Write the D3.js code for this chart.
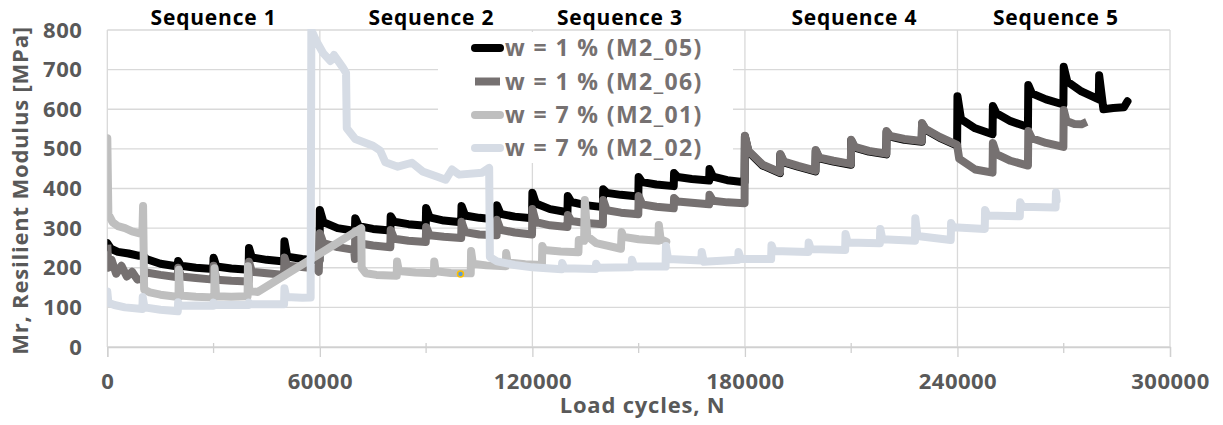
<!DOCTYPE html>
<html>
<head>
<meta charset="utf-8">
<script src="https://cdn.jsdelivr.net/npm/d3@7"></script>
<style>
  html, body { margin: 0; padding: 0; background: #ffffff; }
  svg { display: block; font-family: "Open Sans", sans-serif; }
</style>
</head>
<body>
<svg id="chart" width="1223" height="425"></svg>
<script>
// ---------- data ----------
const seriesNames = ["w = 1 % (M2_05)", "w = 1 % (M2_06)", "w = 7 % (M2_01)", "w = 7 % (M2_02)"];
const seriesColors = ["#000000", "#767171", "#bfbfbf", "#d6dce5"];

const xTicks = [0, 60000, 120000, 180000, 240000, 300000];
const xMinorTicks = [30000, 90000, 150000, 210000, 270000];
const yTicks = [0, 100, 200, 300, 400, 500, 600, 700, 800];

const seqLabels = ["Sequence 1", "Sequence 2", "Sequence 3", "Sequence 4", "Sequence 5"];
const seqCenters = [30000, 91500, 144700, 210900, 267800];

// [load cycles, Mr (MPa)]
const m2_05 = [
  [0,262],[1000,248],[3000,240],[6000,236],[9000,230],[10000,232],[11000,222],[15000,210],[19900,203],
  [20000,217],[20800,205],[25000,200],[29900,197],
  [30000,225],[30800,203],[35000,198],[39900,195],
  [40000,250],[40800,226],[45000,220],[49900,216],
  [50000,267],[50800,228],[55000,222],[59900,218],
  [60000,346],[61000,315],[65000,300],[69900,293],
  [70000,325],[71000,305],[75000,298],[79900,294],
  [80000,330],[81000,316],[85000,310],[89900,306],
  [90000,351],[91000,327],[95000,319],[99900,315],
  [100000,356],[101000,332],[105000,326],[109900,322],
  [110000,358],[111000,336],[115000,329],[119900,325],
  [120000,389],[121000,362],[125000,348],[129900,340],
  [130000,381],[131000,366],[135000,358],[139900,353],
  [140000,398],[141000,389],[145000,384],[149900,380],
  [150000,429],[151000,416],[155000,410],[159900,406],
  [160000,439],[161000,429],[165000,424],[169900,420],
  [170000,449],[171000,430],[175000,421],[179900,416],
  [180000,531],[181000,493],[185000,458],[189900,439],
  [190000,485],[191000,466],[195000,455],[199900,443],
  [200000,495],[201000,476],[205000,468],[209900,460],
  [210000,521],[211000,503],[215000,493],[219900,486],
  [220000,543],[221000,531],[225000,523],[229900,518],
  [230000,563],[231000,548],[235000,528],[239900,508],
  [240000,633],[241000,575],[245000,552],[249900,537],
  [250000,608],[251000,590],[255000,570],[259900,555],
  [260000,661],[261000,640],[265000,625],[269900,612],
  [270000,707],[271000,670],[275000,645],[279900,625],
  [280000,686],[281200,600],[284000,603],[287000,605],[288000,620]
];

const m2_06 = [
  [0,258],[300,200],[1200,220],[2500,185],[4000,205],[5500,178],[7000,190],[8500,170],[10000,172],[11000,188],[15000,182],[19900,176],
  [20000,200],[20800,178],[25000,174],[29900,170],
  [30000,205],[30800,170],[35000,167],[39900,165],
  [40000,215],[40800,190],[45000,186],[49900,182],
  [50000,226],[50800,205],[55000,202],[59000,198],[59700,190],
  [60000,287],[61000,262],[65000,252],[69700,245],[69900,222],
  [70000,293],[71000,262],[75000,256],[79900,252],
  [80000,295],[81000,273],[85000,268],[89900,265],
  [90000,303],[91000,282],[95000,278],[99900,275],
  [100000,316],[101000,290],[105000,284],[109900,282],
  [110000,321],[111000,296],[115000,289],[119900,284],
  [120000,348],[121000,315],[125000,307],[129900,303],
  [130000,333],[131000,318],[135000,313],[139900,310],
  [140000,371],[141000,345],[145000,339],[149900,335],
  [150000,381],[151000,360],[155000,354],[159900,350],
  [160000,376],[161000,367],[165000,364],[169900,360],
  [170000,384],[171000,369],[175000,365],[179900,363],
  [180000,533],[181000,495],[185000,460],[189900,441],
  [190000,487],[191000,468],[195000,457],[199900,445],
  [200000,497],[201000,478],[205000,470],[209900,462],
  [210000,523],[211000,505],[215000,495],[219900,488],
  [220000,545],[221000,533],[225000,525],[229900,520],
  [230000,565],[231000,550],[235000,530],[239900,510],
  [240500,475],[245000,448],[249900,440],
  [250000,515],[251000,487],[255000,470],[259900,458],
  [260000,545],[261000,527],[265000,515],[269900,505],
  [270000,598],[270800,570],[273000,563],[275000,562],[276500,568]
];

const m2_01 = [
  [0,527],[300,335],[1500,315],[3000,305],[5000,300],[7000,292],[9900,285],
  [10100,356],[10400,145],[12000,138],[15000,132],[20100,126],
  [20200,195],[20600,130],[25000,127],[30200,125],
  [30300,199],[30700,128],[35000,127],[39600,128],
  [39700,204],[40100,141],[42500,139],
  [71700,300],[71800,200],[73000,186],[76000,182],[81700,180],
  [81800,216],[82300,192],[87000,188],[92200,186],
  [92300,216],[92700,191],[97000,187],[102600,186],
  [102700,242],[103200,210],[107000,206],[112500,204],
  [112600,237],[113000,213],[118000,209],[122700,207],
  [122800,255],[123300,245],[128000,241],[133000,239],
  [133100,270],[134600,268],[134800,371],[135500,280],[138000,262],[145000,248],
  [145200,290],[145700,278],[150000,272],[155600,268],
  [155700,308],[156200,272],[157800,266]
];

const m2_02 = [
  [0,140],[300,112],[2000,106],[5000,100],[9900,96],
  [10000,126],[10500,100],[15000,94],[19900,90],
  [20000,113],[20500,104],[25000,105],[29900,104],
  [30000,112],[30500,106],[35000,106],[39900,106],
  [40000,112],[40500,108],[45000,108],[49900,108],
  [50000,148],[50500,126],[55000,124],[57400,125],
  [57600,800],[59000,772],[61000,741],[63000,722],[64000,737],[66500,705],[67400,692],
  [67600,552],[70000,525],[75000,508],[77000,496],[78500,466],[82000,455],[86000,465],[89000,443],
  [93000,430],[95500,422],[97300,448],[99300,435],[105800,440],[107800,452],
  [108000,227],[110000,216],[115000,207],[120000,201],[128300,196],
  [128400,212],[129000,199],[137900,197],
  [138000,210],[138600,200],[148000,201],
  [148100,220],[148700,203],[157600,203],
  [157700,255],[158300,222],[167700,218],
  [167800,240],[168400,215],[178100,220],
  [178200,240],[178800,223],[187400,222],
  [187500,257],[188100,242],[197900,240],
  [198000,264],[198600,247],[208300,245],
  [208400,285],[209000,264],[218100,262],
  [218200,298],[218800,272],[228000,268],
  [228100,325],[228700,280],[238100,270],
  [238200,313],[238800,302],[247700,298],
  [247800,346],[248400,332],[257600,330],
  [257700,365],[258300,354],[267700,352],
  [267800,390],[268000,370]
];

const stray = [[99700, 184]];

// ---------- chart ----------
const plot = { left: 107.3, right: 1170, top: 30, bottom: 347 };
const svg = d3.select("#chart");

const x = d3.scaleLinear().domain([0, 300000]).range([plot.left, plot.right]);
const y = d3.scaleLinear().domain([0, 800]).range([plot.bottom, plot.top]);

const gridColor = "#d9d9d9";
const labelColor = "#595959";

// gridlines
svg.append("g").selectAll("line").data(yTicks).join("line")
  .attr("x1", plot.left).attr("x2", plot.right)
  .attr("y1", d => y(d)).attr("y2", d => y(d))
  .attr("stroke", gridColor).attr("stroke-width", 1.3);
svg.append("g").selectAll("line").data(xTicks).join("line")
  .attr("x1", d => x(d)).attr("x2", d => x(d))
  .attr("y1", plot.top).attr("y2", plot.bottom)
  .attr("stroke", gridColor).attr("stroke-width", 1.3);

// x axis
const xAxis = svg.append("g")
  .attr("transform", `translate(0,${plot.bottom})`)
  .call(d3.axisBottom(x).tickValues(xTicks).tickSize(10).tickPadding(16).tickFormat(d3.format("d")));
xAxis.select(".domain").attr("stroke", "#d0d0d0").attr("stroke-width", 1.3);
xAxis.selectAll(".tick line").attr("stroke", "#d0d0d0").attr("stroke-width", 1.3);
xAxis.selectAll("text").attr("fill", labelColor).attr("font-size", 22).attr("font-weight", 700)
  .attr("letter-spacing", 0.5).attr("font-family", "'Open Sans', sans-serif");
svg.append("g").selectAll("line").data(xMinorTicks).join("line")
  .attr("x1", d => x(d)).attr("x2", d => x(d))
  .attr("y1", plot.bottom - 4).attr("y2", plot.bottom + 6)
  .attr("stroke", "#d0d0d0").attr("stroke-width", 1.3);

// y axis
const yAxis = svg.append("g")
  .attr("transform", `translate(${plot.left},0)`)
  .call(d3.axisLeft(y).tickValues(yTicks).tickSize(0).tickPadding(25));
yAxis.select(".domain").remove();
yAxis.selectAll("text").attr("fill", labelColor).attr("font-size", 22).attr("font-weight", 700)
  .attr("letter-spacing", 0.5).attr("font-family", "'Open Sans', sans-serif");

// axis titles
svg.append("text")
  .attr("transform", `translate(28,${(plot.top + plot.bottom) / 2 + 2}) rotate(-90)`)
  .attr("text-anchor", "middle").attr("fill", labelColor)
  .attr("font-size", 22).attr("font-weight", 700).attr("letter-spacing", 0.8)
  .text("Mr, Resilient Modulus [MPa]");
svg.append("text")
  .attr("x", (plot.left + plot.right) / 2 + 4).attr("y", 413)
  .attr("text-anchor", "middle").attr("fill", labelColor)
  .attr("font-size", 22).attr("font-weight", 700).attr("letter-spacing", 0.8)
  .text("Load cycles, N");

// sequence labels
svg.append("g").selectAll("text").data(seqLabels).join("text")
  .attr("x", (d, i) => x(seqCenters[i])).attr("y", 25)
  .attr("text-anchor", "middle").attr("fill", "#000000")
  .attr("font-size", 21).attr("font-weight", 700).attr("letter-spacing", 0.8)
  .text(d => d);

// clip
svg.append("clipPath").attr("id", "clip").append("rect")
  .attr("x", plot.left).attr("y", plot.top - 1)
  .attr("width", plot.right - plot.left).attr("height", plot.bottom - plot.top + 1);

const line = d3.line().x(d => x(d[0])).y(d => y(d[1]));
const allSeries = [m2_05, m2_06, m2_01, m2_02];
const caps = ["round", "butt", "round", "round"];
const gData = svg.append("g").attr("clip-path", "url(#clip)");
allSeries.forEach((s, i) => {
  gData.append("path").datum(s)
    .attr("d", line)
    .attr("fill", "none")
    .attr("stroke", seriesColors[i])
    .attr("stroke-width", 8)
    .attr("stroke-linejoin", "round")
    .attr("stroke-linecap", caps[i]);
});
gData.selectAll("circle.stray").data(stray).join("circle")
  .attr("class", "stray")
  .attr("cx", d => x(d[0])).attr("cy", d => y(d[1])).attr("r", 3)
  .attr("fill", "#5b9bd5").attr("stroke", "#ffc000").attr("stroke-width", 1.5);

// legend
const legend = svg.append("g");
legend.append("rect").attr("x", 438).attr("y", 32).attr("width", 295).attr("height", 131).attr("fill", "#ffffff");
const legRows = [48, 81.5, 115, 148];
seriesNames.forEach((name, i) => {
  legend.append("line")
    .attr("x1", 475).attr("x2", 500)
    .attr("y1", legRows[i]).attr("y2", legRows[i])
    .attr("stroke", seriesColors[i]).attr("stroke-width", 8)
    .attr("stroke-linecap", caps[i] === "butt" ? "butt" : "round");
  legend.append("text")
    .attr("x", 505).attr("y", legRows[i] + 8)
    .attr("fill", "#767171").attr("font-size", 23).attr("font-weight", 700)
    .attr("letter-spacing", 1.4)
    .text(name);
});
</script>
</body>
</html>
